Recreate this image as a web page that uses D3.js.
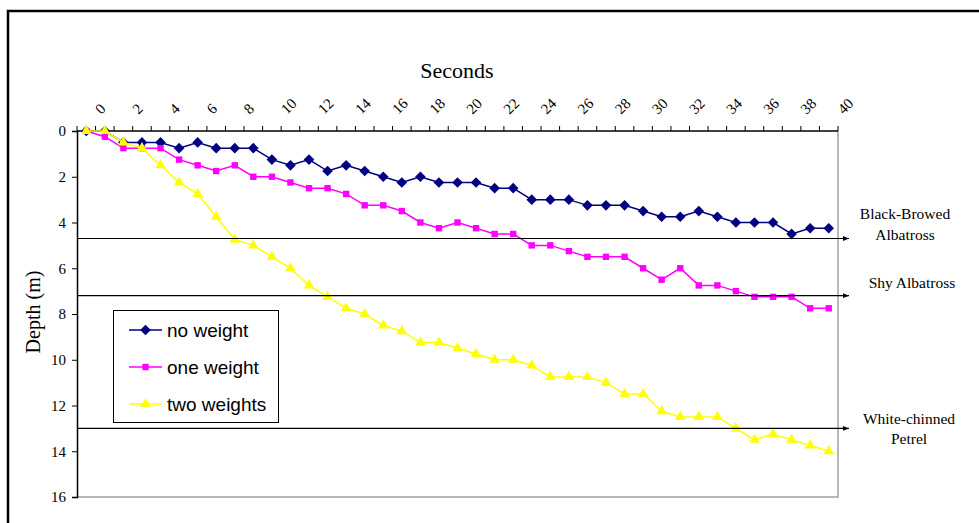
<!DOCTYPE html>
<html>
<head>
<meta charset="utf-8">
<script src="https://cdn.jsdelivr.net/npm/d3@7"></script>
<style>
  html, body { margin: 0; padding: 0; background: #fff; }
  svg { display: block; }
</style>
</head>
<body>
<svg id="chart" width="979" height="523"></svg>
<script>
// ---- data ----
const seconds = d3.range(0, 41); // categories 0..40
const xTickLabels = [0,2,4,6,8,10,12,14,16,18,20,22,24,26,28,30,32,34,36,38,40];
const yTickLabels = [0,2,4,6,8,10,12,14,16];
const seriesNames = ["no weight", "one weight", "two weights"];
const noWeight = [0,0,0.5,0.5,0.5,0.75,0.5,0.75,0.75,0.75,1.25,1.5,1.25,1.75,1.5,1.75,2,2.25,2,2.25,2.25,2.25,2.5,2.5,3,3,3,3.25,3.25,3.25,3.5,3.75,3.75,3.5,3.75,4,4,4,4.5,4.25,4.25];
const oneWeight = [0,0.25,0.75,0.75,0.75,1.25,1.5,1.75,1.5,2,2,2.25,2.5,2.5,2.75,3.25,3.25,3.5,4,4.25,4,4.25,4.5,4.5,5,5,5.25,5.5,5.5,5.5,6,6.5,6,6.75,6.75,7,7.25,7.25,7.25,7.75,7.75];
const twoWeights = [0,0,0.5,0.75,1.5,2.25,2.75,3.75,4.75,5,5.5,6,6.75,7.25,7.75,8,8.5,8.75,9.25,9.25,9.5,9.75,10,10,10.25,10.75,10.75,10.75,11,11.5,11.5,12.25,12.5,12.5,12.5,13,13.5,13.25,13.5,13.75,14];
const birdNames = [["Black-Browed","Albatross"],["Shy Albatross"],["White-chinned","Petrel"]];
const birdDepths = [4.7, 7.2, 13];

// ---- layout ----
const svg = d3.select("#chart");
const L = 77, R = 838, T = 131, B = 497;
const serif = "'Liberation Serif','Times New Roman',serif";
const sans = "'Liberation Sans',Arial,sans-serif";

const x = d3.scaleBand().domain(seconds).range([L, R]).padding(0);
const cx = d => x(d) + x.bandwidth() / 2;
const y = d3.scaleLinear().domain([0, 16]).range([T, B]);

// outer border
svg.append("rect").attr("x", 8).attr("y", 11).attr("width", 1000).attr("height", 600)
  .attr("fill", "none").attr("stroke", "#000").attr("stroke-width", 2.5);

// plot frame right & bottom (gray)
svg.append("path").attr("d", `M${R},${T}V${B}H${L}`)
  .attr("fill", "none").attr("stroke", "#a0a0a0").attr("stroke-width", 1.5);

// top x axis: ticks at category boundaries
const xb = d3.range(0, seconds.length + 1).map(i => L + i * x.bandwidth());
const gx = svg.append("g");
gx.append("line").attr("x1", L).attr("x2", R).attr("y1", T).attr("y2", T)
  .attr("stroke", "#000").attr("stroke-width", 1.5);
gx.selectAll("line.t").data(xb).enter().append("line").attr("class", "t")
  .attr("x1", d => d).attr("x2", d => d).attr("y1", T).attr("y2", T - 5)
  .attr("stroke", "#000").attr("stroke-width", 1);
gx.selectAll("text").data(xTickLabels).enter().append("text")
  .attr("transform", d => `translate(${cx(d) + 15},${T - 16}) rotate(-45)`)
  .attr("text-anchor", "start")
  .attr("font-family", serif).attr("font-size", 15).attr("fill", "#000")
  .text(d => d);

// left y axis
const yAxis = d3.axisLeft(y).tickValues(yTickLabels).tickSize(5).tickPadding(6).tickFormat(d => d);
const gy = svg.append("g").attr("transform", `translate(${L},0)`).call(yAxis);
gy.select(".domain").attr("stroke", "#000").attr("stroke-width", 1.5);
gy.selectAll(".tick line").attr("stroke", "#000");
gy.selectAll(".tick text").attr("font-family", serif).attr("font-size", 15).attr("fill", "#000");

// titles
svg.append("text").attr("x", 457).attr("y", 78).attr("text-anchor", "middle")
  .attr("font-family", serif).attr("font-size", 22).text("Seconds");
svg.append("text").attr("transform", "translate(40,312) rotate(-90)").attr("text-anchor", "middle")
  .attr("font-family", serif).attr("font-size", 20).text("Depth (m)");

// series
const series = [
  { name: seriesNames[0], values: noWeight, color: "#000080", shape: d3.symbolDiamond2, size: 72 },
  { name: seriesNames[1], values: oneWeight, color: "#ff00ff", shape: d3.symbolSquare2, size: 52 },
  { name: seriesNames[2], values: twoWeights, color: "#ffff00", shape: d3.symbolTriangle2, size: 80 }
];
const line = d3.line().x((d, i) => cx(seconds[i])).y(d => y(d));
series.forEach(s => {
  svg.append("path").datum(s.values).attr("d", line)
    .attr("fill", "none").attr("stroke", s.color).attr("stroke-width", 1.5);
  svg.selectAll(null).data(s.values).enter().append("path")
    .attr("d", d3.symbol().type(s.shape).size(s.size))
    .attr("transform", (d, i) => `translate(${cx(seconds[i])},${y(d)})`)
    .attr("fill", s.color).attr("stroke", "none");
});

// bird depth arrows
const defs = svg.append("defs");
defs.append("marker").attr("id", "arr").attr("viewBox", "0 0 10 10").attr("refX", 10).attr("refY", 5)
  .attr("markerWidth", 6).attr("markerHeight", 6).attr("markerUnits", "userSpaceOnUse").attr("orient", "auto")
  .append("path").attr("d", "M0,1L10,5L0,9Z").attr("fill", "#000");
birdDepths.forEach(dp => {
  svg.append("line").attr("x1", L).attr("x2", 849).attr("y1", y(dp)).attr("y2", y(dp))
    .attr("stroke", "#000").attr("stroke-width", 1.2).attr("marker-end", "url(#arr)");
});
const labelPos = [[905, 219, 21], [912, 288, 21], [909, 423.5, 20]];
birdNames.forEach((lines, k) => {
  const t = svg.append("text").attr("font-family", serif).attr("font-size", 15.5).attr("text-anchor", "middle");
  lines.forEach((ln, j) => {
    t.append("tspan").attr("x", labelPos[k][0]).attr("y", labelPos[k][1] + j * labelPos[k][2]).text(ln);
  });
});

// legend
const lg = svg.append("g");
lg.append("rect").attr("x", 113.5).attr("y", 310.5).attr("width", 165).attr("height", 112)
  .attr("fill", "#fff").attr("stroke", "#000").attr("stroke-width", 1);
series.forEach((s, i) => {
  const yy = 330 + i * 37;
  lg.append("line").attr("x1", 129).attr("x2", 162).attr("y1", yy).attr("y2", yy)
    .attr("stroke", s.color).attr("stroke-width", 1.5);
  lg.append("path").attr("d", d3.symbol().type(s.shape).size(s.size))
    .attr("transform", `translate(145.5,${yy})`).attr("fill", s.color);
  lg.append("text").attr("x", 167).attr("y", yy).attr("dy", "0.35em")
    .attr("font-family", sans).attr("font-size", 19).attr("fill", "#000").text(s.name);
});
</script>
</body>
</html>
